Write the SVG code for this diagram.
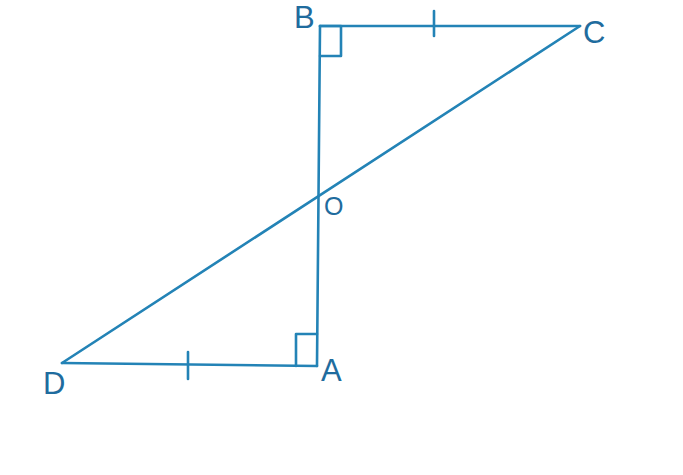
<svg xmlns="http://www.w3.org/2000/svg" width="683" height="475" viewBox="0 0 683 475">
<style>
.ln{stroke:#2383b6;stroke-width:2.6;fill:none;stroke-linecap:round;stroke-linejoin:round}
.lb{font-family:"Liberation Sans",Arial,sans-serif;font-size:31px;fill:#1f6c9e}
</style>
<rect width="683" height="475" fill="#ffffff"/>
<g id="connectors">
<line class="ln" x1="320" y1="26" x2="580" y2="26"/>
<line class="ln" x1="320" y1="26" x2="317" y2="366"/>
<line class="ln" x1="62" y1="363" x2="580" y2="26"/>
<line class="ln" x1="62" y1="363" x2="317" y2="366"/>
<path class="ln" d="M320,26 H341 V56 H320"/>
<path class="ln" d="M296,366 V334 H317"/>
<line class="ln" x1="434" y1="11" x2="434" y2="36"/>
<line class="ln" x1="188" y1="352" x2="188" y2="379"/>
</g>
<g id="B"><text class="lb" x="294" y="28">B</text></g>
<g id="C"><text class="lb" x="583" y="43">C</text></g>
<g id="O"><text class="lb" x="324" y="215" style="font-size:25px">O</text></g>
<g id="A"><text class="lb" x="321" y="381">A</text></g>
<g id="D"><text class="lb" x="43" y="394">D</text></g>
</svg>
